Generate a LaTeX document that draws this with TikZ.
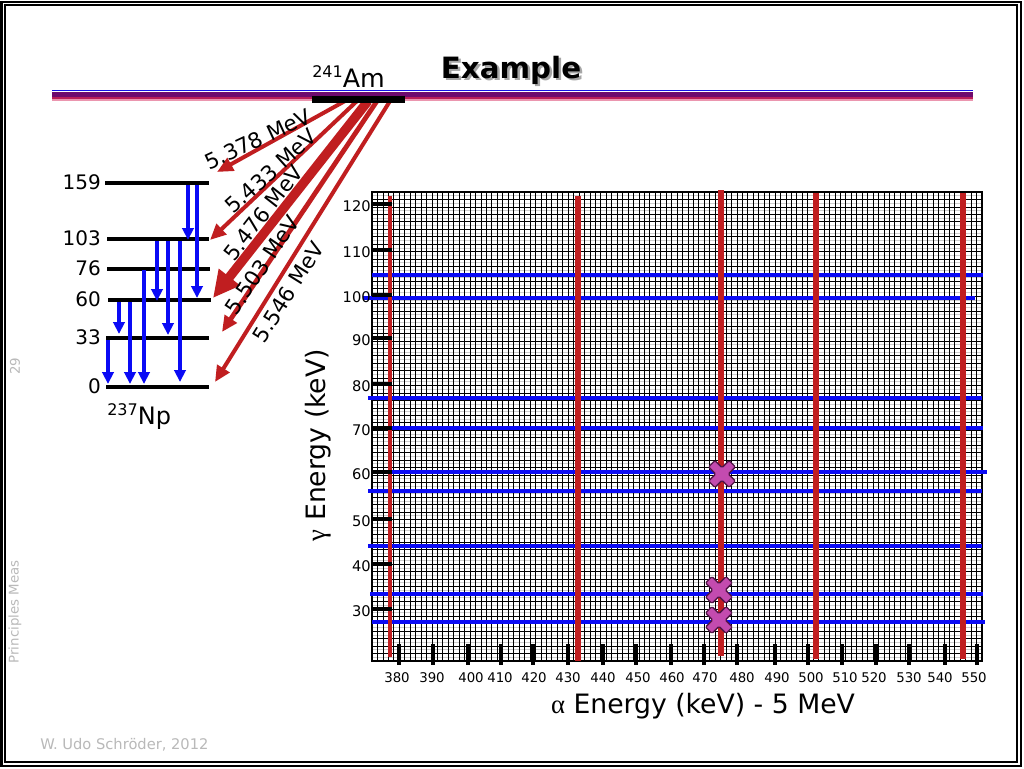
\documentclass[tikz,border=0pt]{standalone}
\usepackage{fontspec}
\setmainfont{DejaVu Sans}
\newfontfamily\grk{Liberation Serif}
\usetikzlibrary{arrows.meta}
\definecolor{ared}{RGB}{192,30,32}
\definecolor{gblue}{RGB}{10,10,245}
\definecolor{barblue}{RGB}{20,20,230}
\definecolor{barpurple}{RGB}{110,10,110}
\definecolor{barcrimson}{RGB}{185,30,90}
\definecolor{barpink}{RGB}{235,150,175}
\definecolor{sidegray}{RGB}{185,185,185}
\definecolor{minorgray}{RGB}{205,205,205}
\definecolor{xfill}{RGB}{195,75,175}
\definecolor{xedge}{RGB}{80,20,70}
\newcommand\setfs[1]{\fontsize{#1}{#1}\selectfont}
\begin{document}
\begin{tikzpicture}[x=0.75pt,y=-0.75pt,
  levelline/.style={line width=3pt},
  gam/.style={gblue, line width=3pt, -{Triangle[length=9pt,width=8.5pt]}},
  alf/.style={ared, line width=3pt, -{Triangle[length=12pt,width=10.5pt]}},
  alfthick/.style={ared, line width=7pt, -{Triangle[length=20pt,width=19pt]}},
  gline/.style={gblue, line width=3.5pt},
  aline/.style={ared, line width=4.6pt},
  axtick/.style={black, line width=3pt},
  levlab/.style={anchor=east, inner sep=0pt, font=\setfs{15}},
  alab/.style={inner sep=0pt, font=\setfs{16}},
  xlab/.style={inner sep=0pt, font=\setfs{10}},
  ylab/.style={anchor=east, inner sep=0pt, font=\setfs{11}},
  sidetext/.style={text=sidegray, inner sep=0pt, font=\setfs{10}, rotate=90}
]
\useasboundingbox (0,0) rectangle (1024,768);
\fill[white] (0,0) rectangle (1024,768);
% frame
\draw[line width=1.5pt] (1.5,1.5) rectangle (1021,766);
\draw[line width=0.8pt] (5,5) rectangle (1017,762);
% title bar
\draw[barblue, line width=1.1pt] (52,90.5) -- (973,90.5);
\draw[barpurple, line width=3.8pt] (52,94.2) -- (973,94.2);
\draw[barcrimson, line width=2pt] (52,98) -- (973,98);
\draw[barpink, line width=1.1pt] (52,100) -- (973,100);
% title
\node[anchor=base, inner sep=0pt, text=black!35, font=\setfs{22}\bfseries] (titleshadow) at (513.5,80.5) {Example};
\node[anchor=base, inner sep=0pt, font=\setfs{22}\bfseries] (title) at (511,78) {Example};
% side texts
\node[sidetext] (pagenum) at (15,366) {29};
\node[sidetext] (course) at (15,612) {Principles Meas};
\node[anchor=west, inner sep=0pt, text=sidegray, font=\setfs{11}] (footer) at (40,745) {W. Udo Schröder, 2012};
% grid
\foreach \i in {0,...,62} \draw[minorgray, line width=0.5pt] (372,{195.72+\i*7.444}) -- (982,{195.72+\i*7.444});
\foreach \i in {0,...,63} \draw[black, line width=0.5pt] (372,{192+\i*7.444}) -- (982,{192+\i*7.444});
\foreach \i in {0,...,112} \draw[black, line width=0.5pt] ({372+\i*5.446},192) -- ({372+\i*5.446},661);
\draw[line width=1.1pt] (372,192) rectangle (982,661);
% gamma lines
\foreach \y/\xa/\xb in {275/372/983, 298/363/975, 398/368/982, 428/372/983, 472/373/987, 491/368/982, 546/368/982, 594/370/983, 622/372/985}
  \draw[gline] (\xa,\y) -- (\xb,\y);
% alpha lines
\draw[ared, line width=3.4pt] (390,196) -- (390,657);
\foreach \x/\ya/\yb in {578/196/661, 721/190/656, 816/193/659, 963/193/659}
  \draw[aline] (\x,\ya) -- (\x,\yb);
% y ticks and labels
\foreach \y/\v in {204/120, 250/110, 295/100, 338/90, 384/80, 428/70, 472/60, 519/50, 564/40, 609/30} {
  \draw[axtick] (372,\y) -- (392,\y);
  \node[ylab] (ylab\v) at (371,\y+2) {\v};
}
% x ticks and labels
\foreach \x in {399,433,468,501,533,568,603,636,671,704,737,775,808,842,876,909,945,977}
  \draw[axtick] (\x,644) -- (\x,665);
\foreach \x/\v in {397/380, 432/390, 471/400, 500/410, 534/420, 568/430, 603/440, 638/450, 672/460, 705/470, 742/480, 777/490, 811/500, 845/510, 874/520, 909/530, 940/540, 974/550}
  \node[xlab] (xlab\v) at (\x,678) {\v};
% crosses
\foreach \cx/\cy in {722/474, 719/590, 719/620}
  \filldraw[fill=xfill, draw=xedge, line width=1pt, rounded corners=1pt, shift={(\cx,\cy)}, rotate=45]
    (4.5,4.5) -- (4.5,14.5) -- (-4.5,14.5) -- (-4.5,4.5) -- (-14.5,4.5) -- (-14.5,-4.5) -- (-4.5,-4.5) -- (-4.5,-14.5) -- (4.5,-14.5) -- (4.5,-4.5) -- (14.5,-4.5) -- (14.5,4.5) -- cycle;
% axis titles
\node[inner sep=0pt, font=\setfs{20}] (xtitle) at (703,706) {{\grk α} Energy (keV) - 5 MeV};
\node[inner sep=0pt, font=\setfs{20}, rotate=90] (ytitle) at (318,445) {{\grk γ} Energy (keV)};
% level scheme
\foreach \y/\lab/\xa/\xb in {183/159/105/209, 239/103/107/209, 269/76/107/210, 300/60/108/211, 338/33/106/209, 387/0/106/209} {
  \draw[levelline] (\xa,\y) -- (\xb,\y);
  \node[levlab] (lev\lab) at (101,\y-1) {\lab};
}
\node[anchor=base west, inner sep=0pt, font=\setfs{18}] (np) at (107,424) {\raisebox{6.5pt}{\setfs{12}237}Np};
% gamma arrows
\foreach \x/\ys/\ye [count=\i] in {188/185/240, 197/185/298, 157/241/301, 168/241/335, 180/241/382, 144/270/384, 119/302/334, 130/302/384, 108/340/384} {
  \coordinate (gs\i) at (\x,\ys);
  \coordinate (ge\i) at (\x,\ye);
  \draw[gam] (gs\i) -- (ge\i);
}
% alpha arrows
\coordinate (as1) at (345,101); \coordinate (ae1) at (217,172);
\coordinate (as2) at (357,101); \coordinate (ae2) at (210,240);
\coordinate (as3) at (368,101); \coordinate (ae3) at (213,298);
\coordinate (as4) at (377,101); \coordinate (ae4) at (222,332);
\coordinate (as5) at (390,101); \coordinate (ae5) at (215,382);
\draw[alf] (as1) -- (ae1);
\draw[alf] (as2) -- (ae2);
\draw[alfthick] (as3) -- (ae3);
\draw[alf, line width=3.6pt] (as4) -- (ae4);
\draw[alf] (as5) -- (ae5);
% Am bar
\fill[black] (312,95.5) rectangle (405,103);
\node[anchor=base west, inner sep=0pt, font=\setfs{19}] (am) at (312,87) {\raisebox{7pt}{\setfs{12}241}Am};
% alpha labels
\node[alab, rotate=25] (l1) at (258,139) {5.378 MeV};
\node[alab, rotate=42] (l2) at (271,171) {5.433 MeV};
\node[alab, rotate=52] (l3) at (263,213) {5.476 MeV};
\node[alab, rotate=56] (l4) at (262,265) {5.503 MeV};
\node[alab, rotate=58] (l5) at (288,292) {5.546 MeV};
\end{tikzpicture}
\end{document}
